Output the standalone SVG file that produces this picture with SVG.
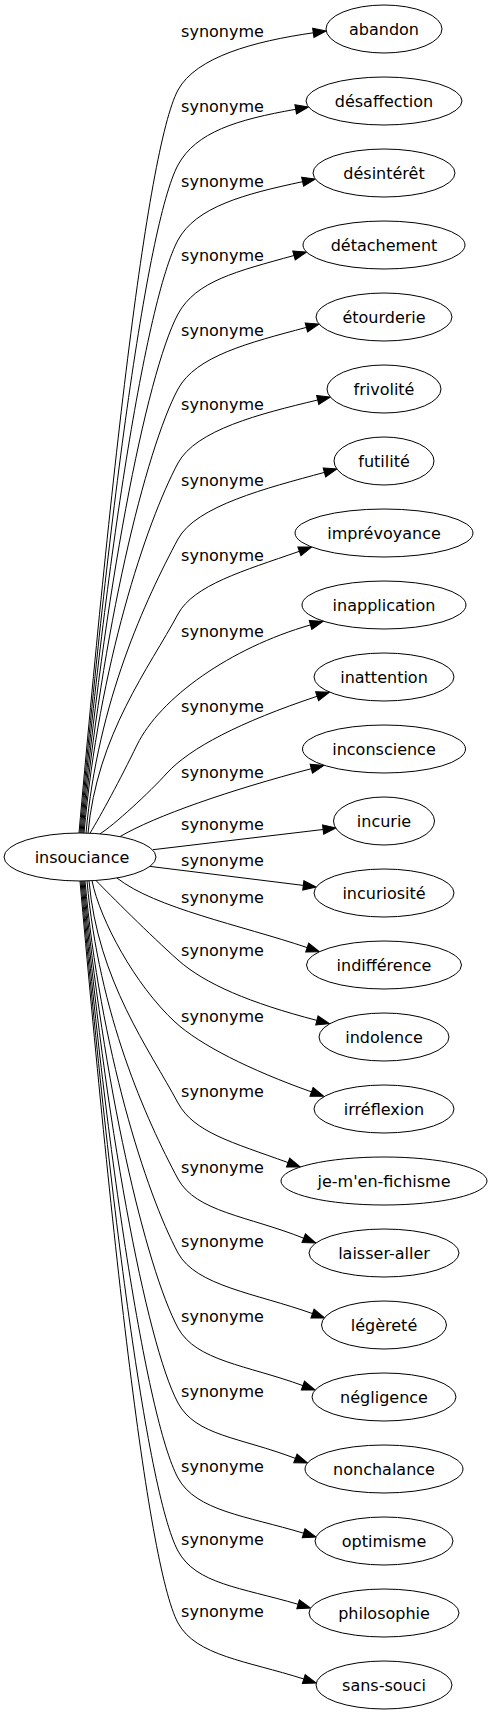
<svg xmlns="http://www.w3.org/2000/svg" width="493" height="1715" viewBox="0 0 493 1715">
<style>
text{font-family:"DejaVu Sans","Liberation Sans",sans-serif;font-size:16px;fill:#000;text-anchor:middle}
.node ellipse{fill:#fff;stroke:#000;stroke-width:1}
.edge path{fill:none;stroke:#000;stroke-width:1;marker-end:url(#ah)}
</style>
<defs>
<marker id="ah" markerUnits="userSpaceOnUse" viewBox="0 -5 13 10" refX="0" refY="0" markerWidth="13" markerHeight="10" orient="auto" overflow="visible">
<path d="M0,-4.67 L13,0 L0,4.67 Z" fill="#000" stroke="#000" stroke-width="1"/>
</marker>
</defs>
<rect width="493" height="1715" fill="#fff"/>
<g id="edges">
<g class="edge"><path d="M79,833 C108.7,498.6 146,150 178,90 C196,57 253.9,41.3 313.3,32.8"/><text x="222.5" y="37">synonyme</text></g>
<g class="edge"><path d="M80,833 C106.7,532.4 146,225 178,165 C196,132 236.6,119.7 295.7,109.3"/><text x="222.5" y="112">synonyme</text></g>
<g class="edge"><path d="M81,833 C104.7,566.1 146,300 178,240 C196,207 243.9,194.1 302.6,181.7"/><text x="222.5" y="187">synonyme</text></g>
<g class="edge"><path d="M82,833 C102.8,599.4 146,374 178,314 C196,281 236.2,271.5 294,255.5"/><text x="222.5" y="261">synonyme</text></g>
<g class="edge"><path d="M83,833.1 C100.8,633.2 146,449 178,389 C196,356 248.4,342.9 306.4,327.4"/><text x="222.5" y="336">synonyme</text></g>
<g class="edge"><path d="M84,833.1 C98.8,666.6 146,523 178,463 C196,430 259.3,413.9 317.7,400"/><text x="222.5" y="410">synonyme</text></g>
<g class="edge"><path d="M86,833.2 C97.8,700.9 146,599 178,539 C196,506 266.5,488.1 324.4,472.4"/><text x="222.5" y="486">synonyme</text></g>
<g class="edge"><path d="M88,833.3 C96.8,734.7 150,666.6 178,614 C193.8,585.1 242.8,571 299.4,551.3"/><text x="222.5" y="561">synonyme</text></g>
<g class="edge"><path d="M90,833.2 C101,815 120,780 137,745 C160,698 230,648 310.5,624.9"/><text x="222.5" y="637">synonyme</text></g>
<g class="edge"><path d="M100,833.8 C113,826 150,792 167,773 C190,748 240,722 317.1,696.3"/><text x="222.5" y="712">synonyme</text></g>
<g class="edge"><path d="M120,836.6 C155,816 230,790 311.3,768.7"/><text x="222.5" y="778">synonyme</text></g>
<g class="edge"><path d="M153,849.7 L323.1,829.5"/><text x="222.5" y="830">synonyme</text></g>
<g class="edge"><path d="M150,866.4 L303.3,885.4"/><text x="222.5" y="866">synonyme</text></g>
<g class="edge"><path d="M117,878 C155,908 240,925 307.2,947.6"/><text x="222.5" y="903">synonyme</text></g>
<g class="edge"><path d="M96,880.5 C110,895 150,935 178,960 C205,984 250,1003 316.9,1020.4"/><text x="222.5" y="956">synonyme</text></g>
<g class="edge"><path d="M92,880.7 C100,920 135,985 175,1022 C200,1045 250,1070 311.5,1091.9"/><text x="222.5" y="1022">synonyme</text></g>
<g class="edge"><path d="M89,880.8 C97.9,980.8 149.6,1049.7 178,1103 C194,1132.3 231.7,1142.2 288.1,1162.6"/><text x="222.5" y="1097">synonyme</text></g>
<g class="edge"><path d="M87,880.9 C98.9,1015 146,1119 178,1179 C196,1212 248,1216 303.7,1238.2"/><text x="222.5" y="1173">synonyme</text></g>
<g class="edge"><path d="M85,881 C99.9,1048.4 146,1193 178,1253 C196,1286 256,1293.4 312.5,1313.6"/><text x="222.5" y="1247">synonyme</text></g>
<g class="edge"><path d="M84,881 C101.9,1082.2 146,1268 178,1328 C196,1361 246.6,1365.1 302.9,1385.6"/><text x="222.5" y="1322">synonyme</text></g>
<g class="edge"><path d="M83,881 C103.9,1115.9 146,1343 178,1403 C196,1436 239.4,1437 295.4,1458.4"/><text x="222.5" y="1397">synonyme</text></g>
<g class="edge"><path d="M82,881 C105.9,1149.7 146,1418 178,1478 C196,1511 246.2,1515.9 303.6,1533.2"/><text x="222.5" y="1472">synonyme</text></g>
<g class="edge"><path d="M81,881 C107.8,1182.5 146,1491 178,1551 C196,1584 240.5,1587.4 298.1,1604.3"/><text x="222.5" y="1545">synonyme</text></g>
<g class="edge"><path d="M80,881 C109.7,1214.9 146,1563 178,1623 C196,1656 246.7,1660.8 303.8,1679"/><text x="222.5" y="1617">synonyme</text></g>
</g>
<g id="insouciance" class="node"><ellipse cx="80" cy="857" rx="76" ry="24"/><text x="82" y="863">insouciance</text></g>
<g id="abandon" class="node"><ellipse cx="384" cy="29" rx="58" ry="24"/><text x="384" y="35">abandon</text></g>
<g id="desaffection" class="node"><ellipse cx="384" cy="101" rx="78" ry="24"/><text x="384" y="107">désaffection</text></g>
<g id="desinteret" class="node"><ellipse cx="384" cy="173" rx="71" ry="24"/><text x="384" y="179">désintérêt</text></g>
<g id="detachement" class="node"><ellipse cx="384" cy="245" rx="81" ry="24"/><text x="384" y="251">détachement</text></g>
<g id="etourderie" class="node"><ellipse cx="384" cy="317" rx="68" ry="24"/><text x="384" y="323">étourderie</text></g>
<g id="frivolite" class="node"><ellipse cx="384" cy="389" rx="57" ry="24"/><text x="384" y="395">frivolité</text></g>
<g id="futilite" class="node"><ellipse cx="384" cy="461" rx="50" ry="24"/><text x="384" y="467">futilité</text></g>
<g id="imprevoyance" class="node"><ellipse cx="384" cy="533" rx="89" ry="24"/><text x="384" y="539">imprévoyance</text></g>
<g id="inapplication" class="node"><ellipse cx="384" cy="605" rx="82" ry="24"/><text x="384" y="611">inapplication</text></g>
<g id="inattention" class="node"><ellipse cx="384" cy="677" rx="70" ry="24"/><text x="384" y="683">inattention</text></g>
<g id="inconscience" class="node"><ellipse cx="384" cy="749" rx="81.5" ry="24"/><text x="384" y="755">inconscience</text></g>
<g id="incurie" class="node"><ellipse cx="384" cy="821" rx="50.5" ry="24"/><text x="384" y="827">incurie</text></g>
<g id="incuriosite" class="node"><ellipse cx="384" cy="893" rx="70" ry="24"/><text x="384" y="899">incuriosité</text></g>
<g id="indifference" class="node"><ellipse cx="384" cy="965" rx="77.5" ry="24"/><text x="384" y="971">indifférence</text></g>
<g id="indolence" class="node"><ellipse cx="384" cy="1037" rx="65" ry="24"/><text x="384" y="1043">indolence</text></g>
<g id="irreflexion" class="node"><ellipse cx="384" cy="1109" rx="70" ry="24"/><text x="384" y="1115">irréflexion</text></g>
<g id="je-m-en-fichisme" class="node"><ellipse cx="384" cy="1181" rx="103" ry="24"/><text x="384" y="1187">je-m'en-fichisme</text></g>
<g id="laisser-aller" class="node"><ellipse cx="384" cy="1253" rx="75" ry="24"/><text x="384" y="1259">laisser-aller</text></g>
<g id="legerete" class="node"><ellipse cx="384" cy="1325" rx="62.5" ry="24"/><text x="384" y="1331">légèreté</text></g>
<g id="negligence" class="node"><ellipse cx="384" cy="1397" rx="72" ry="24"/><text x="384" y="1403">négligence</text></g>
<g id="nonchalance" class="node"><ellipse cx="384" cy="1469" rx="79" ry="24"/><text x="384" y="1475">nonchalance</text></g>
<g id="optimisme" class="node"><ellipse cx="384" cy="1541" rx="69" ry="24"/><text x="384" y="1547">optimisme</text></g>
<g id="philosophie" class="node"><ellipse cx="384" cy="1613" rx="75" ry="24"/><text x="384" y="1619">philosophie</text></g>
<g id="sans-souci" class="node"><ellipse cx="384" cy="1685" rx="68" ry="24"/><text x="384" y="1691">sans-souci</text></g>
</svg>
